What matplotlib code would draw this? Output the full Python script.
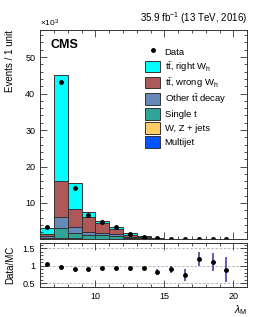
import numpy as np
import matplotlib
matplotlib.use("Agg")
import matplotlib.pyplot as plt
from matplotlib.patches import Patch
from matplotlib.lines import Line2D
from matplotlib.ticker import MultipleLocator, FixedLocator

plt.rcParams["font.family"] = ["Liberation Sans", "DejaVu Sans"]
plt.rcParams["mathtext.fontset"] = "custom"
plt.rcParams["mathtext.rm"] = "Liberation Sans"
plt.rcParams["mathtext.it"] = "Liberation Sans:italic"

# lambda_M bins (1 unit wide), yields in thousands of events
edges = np.arange(6, 22, 1)
centers = edges[:-1] + 0.5

multijet = [0.05, 0.10, 0.07, 0.05, 0.04, 0.03, 0.02, 0.01, 0.005, 0.003, 0.002, 0.001, 0.001, 0.0005, 0.0003]
wz_jets = [0.10, 0.35, 0.28, 0.20, 0.15, 0.12, 0.06, 0.03, 0.015, 0.007, 0.004, 0.002, 0.001, 0.0005, 0.0002]
single_t = [0.30, 2.65, 1.55, 0.95, 0.96, 0.85, 0.32, 0.16, 0.08, 0.04, 0.024, 0.012, 0.008, 0.005, 0.0025]
other_tt = [0.45, 3.00, 1.40, 0.90, 0.55, 0.50, 0.20, 0.10, 0.05, 0.03, 0.02, 0.01, 0.006, 0.004, 0.002]
wrong_wh = [0.60, 9.90, 5.10, 4.10, 2.70, 1.50, 0.60, 0.30, 0.15, 0.07, 0.04, 0.02, 0.014, 0.008, 0.004]
right_wh = [1.70, 29.0, 7.00, 1.20, 0.60, 0.50, 0.50, 0.25, 0.12, 0.05, 0.03, 0.015, 0.01, 0.007, 0.003]

data = [3.36, 43.2, 14.0, 6.66, 4.70, 3.29, 1.58, 0.80, 0.35, 0.18, 0.088, 0.071, 0.044, 0.022, 0.0]
ratio_err = [0.01, 0.005, 0.01, 0.01, 0.01, 0.01, 0.015, 0.02, 0.07, 0.10, 0.16, 0.20, 0.25, 0.36, 0.0]

tt = r"t$\bar{\mathrm{t}}$"
components = [
    ("Multijet", multijet, "#0055ff"),
    ("W, Z + jets", wz_jets, "#ffcc66"),
    ("Single t", single_t, "#2ea597"),
    ("Other " + tt + " decay", other_tt, "#6689ba"),
    (tt + r", wrong W$_\mathrm{h}$", wrong_wh, "#ad5959"),
    (tt + r", right W$_\mathrm{h}$", right_wh, "#00ffff"),
]

fig = plt.figure(figsize=(2.66, 3.17), dpi=100)
ax = fig.add_axes([0.151, 0.2445, 0.778, 0.662])
axr = fig.add_axes([0.151, 0.0956, 0.778, 0.138])

bottom = np.zeros(len(centers))
for label, vals, color in components:
    vals = np.array(vals)
    ax.bar(centers, vals, width=1.0, bottom=bottom, color=color,
           edgecolor="#333333", linewidth=0.7)
    bottom = bottom + vals
total = bottom

data = np.array(data)
has = data > 0
ax.plot(centers[has], data[has], "o", color="black", markersize=2.5)

ax.set_xlim(6, 21)
ax.set_ylim(0, 57.5)
ax.yaxis.set_major_locator(FixedLocator([10, 20, 30, 40, 50]))
ax.yaxis.set_minor_locator(MultipleLocator(2))
ax.xaxis.set_major_locator(MultipleLocator(5))
ax.xaxis.set_minor_locator(MultipleLocator(1))
ax.tick_params(axis="x", labelbottom=False)

for a in (ax, axr):
    a.tick_params(which="both", direction="in", top=True, right=True,
                  labelsize=6.5, width=0.6, colors="#333333", labelcolor="black")
    a.tick_params(which="major", length=5)
    a.tick_params(which="minor", length=2.5)
    for s in a.spines.values():
        s.set_linewidth(0.7)
        s.set_color("#333333")

ax.set_ylabel("Events / 1 unit", loc="top", fontsize=7)
ax.yaxis.set_label_coords(-0.12, 1.0)
ax.text(0.0, 1.003, r"$\times10^3$", transform=ax.transAxes, fontsize=6, va="bottom", ha="left")
ax.text(1.0, 1.018, r"35.9 fb$^{-1}$ (13 TeV, 2016)", transform=ax.transAxes,
        fontsize=7, va="bottom", ha="right")
ax.text(0.05, 0.955, "CMS", transform=ax.transAxes, fontsize=9, fontweight="bold",
        va="top", ha="left")

handles = [Line2D([], [], marker="o", color="black", linestyle="none", markersize=2.5)]
labels = ["Data"]
for label, vals, color in reversed(components):
    handles.append(Patch(facecolor=color, edgecolor="#333333", linewidth=0.7))
    labels.append(label)
ax.legend(handles, labels, loc="upper left", bbox_to_anchor=(0.49, 0.94),
          frameon=False, fontsize=6.8, handlelength=1.6, handleheight=1.5,
          handletextpad=0.45, labelspacing=0.25, borderaxespad=0)

# ratio panel
ratio = np.where(has, data / total, np.nan)
axr.errorbar(centers[has], ratio[has], yerr=np.array(ratio_err)[has], fmt="o",
             color="black", ecolor="#3333aa", elinewidth=1.1, markersize=2.5, capsize=0)
for yv in (0.5, 1.0, 1.5):
    axr.axhline(yv, color="#aaaaaa", linestyle=(0, (3, 2)), linewidth=0.6, zorder=0)
axr.set_xlim(6, 21)
axr.set_ylim(0.4, 1.65)
axr.yaxis.set_major_locator(FixedLocator([0.5, 1.0, 1.5]))
axr.set_yticklabels(["0.5", "1", "1.5"])
axr.yaxis.set_minor_locator(MultipleLocator(0.1))
axr.xaxis.set_major_locator(MultipleLocator(5))
axr.xaxis.set_minor_locator(MultipleLocator(1))
axr.set_ylabel("Data/MC", fontsize=7)
axr.yaxis.set_label_coords(-0.12, 0.5)
axr.set_xlabel(r"$\lambda_\mathrm{M}$", loc="right", fontsize=7.5)
axr.xaxis.set_label_coords(1.0, -0.38)

fig.savefig("out.png", dpi=100)
